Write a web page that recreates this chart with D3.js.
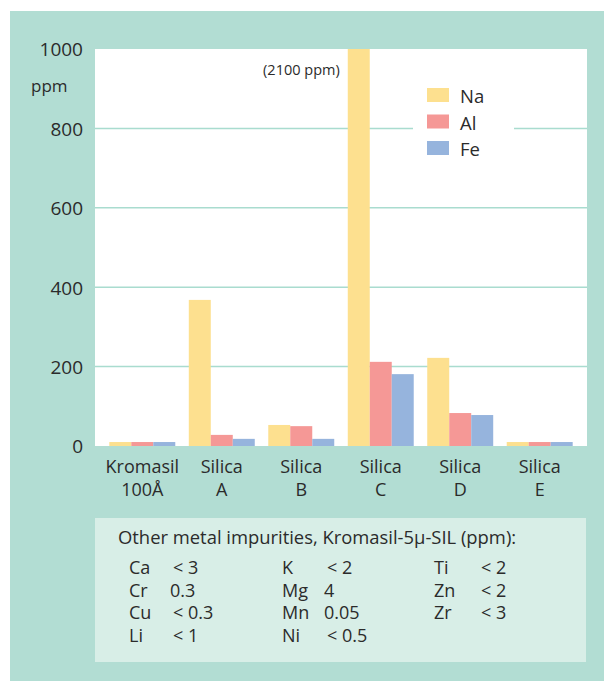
<!DOCTYPE html>
<html><head><meta charset="utf-8">
<script src="https://cdn.jsdelivr.net/npm/d3@7"></script>
<style>
html,body{margin:0;padding:0;background:#fff;}
svg text{font-family:"Open Sans","Noto Sans",sans-serif;fill:#2b2b2b;}
</style></head>
<body>
<svg id="chart" width="604" height="681"></svg>
<script>
const categories = [["Kromasil","100Å"],["Silica","A"],["Silica","B"],["Silica","C"],["Silica","D"],["Silica","E"]];
const seriesNames = ["Na","Al","Fe"];
const naValues = [10, 368, 53, 2100, 222, 10];
const alValues = [10, 28, 50, 212, 83, 10];
const feValues = [10, 18, 18, 181, 78, 10];
const yTicks = [0, 200, 400, 600, 800, 1000];
const seriesColors = ["#fde08f", "#f59896", "#96b4dd"];
const offScaleNote = "(2100 ppm)";
const boxTitle = "Other metal impurities, Kromasil-5µ-SIL (ppm):";
const impurityCols = [
  [["Ca","< 3"],["Cr","0.3"],["Cu","< 0.3"],["Li","< 1"]],
  [["K","< 2"],["Mg","4"],["Mn","0.05"],["Ni","< 0.5"]],
  [["Ti","< 2"],["Zn","< 2"],["Zr","< 3"]]
];

const svg = d3.select("#chart");
const teal = "#b2ddd3";
svg.append("rect").attr("x",10).attr("y",11).attr("width",594).attr("height",670).attr("fill",teal);

const plot = {l:95, r:587, t:49, b:446};
svg.append("rect").attr("x",plot.l).attr("y",plot.t).attr("width",plot.r-plot.l).attr("height",plot.b-plot.t).attr("fill","#fff");

const y = d3.scaleLinear().domain([0,1000]).range([plot.b, plot.t]);
const x0 = d3.scaleBand().domain(d3.range(categories.length)).range([plot.l, plot.r]).paddingInner(0.17).paddingOuter(0.18);
const x1 = d3.scaleBand().domain(seriesNames).range([0, x0.bandwidth()]);

svg.append("g").selectAll("line").data(yTicks.filter(t=>t>0 && t<1000)).join("line")
  .attr("x1",plot.l).attr("x2",plot.r).attr("y1",d=>y(d)).attr("y2",d=>y(d))
  .attr("stroke","#a9dccf").attr("stroke-width",1.5);

svg.append("clipPath").attr("id","pc").append("rect")
  .attr("x",plot.l).attr("y",plot.t).attr("width",plot.r-plot.l).attr("height",plot.b-plot.t+1);
const allVals = [naValues, alValues, feValues];
const bars = [];
categories.forEach((c,i)=>seriesNames.forEach((s,j)=>bars.push({i, s, j, v: allVals[j][i]})));
svg.append("g").attr("clip-path","url(#pc)").selectAll("rect").data(bars).join("rect")
  .attr("x",d=>x0(d.i)+x1(d.s)).attr("width",x1.bandwidth())
  .attr("y",d=>y(Math.min(d.v,1000))).attr("height",d=>plot.b - y(Math.min(d.v,1000)))
  .attr("fill",d=>seriesColors[d.j]);

svg.append("text").attr("x", x0(3)+x1("Na")-8).attr("y",75).attr("text-anchor","end")
  .attr("font-size",14.5).text(offScaleNote);

const yAxis = d3.axisLeft(y).tickValues(yTicks).tickSize(0).tickPadding(0).tickFormat(d3.format("d"));
const ya = svg.append("g").attr("transform",`translate(${83},0)`).call(yAxis);
ya.select(".domain").remove();
ya.selectAll("text").attr("font-size",19).attr("fill","#2b2b2b").attr("font-family",'"Open Sans","Noto Sans",sans-serif').attr("dy","0.36em");
svg.append("text").attr("x",31).attr("y",92).attr("font-size",17).text("ppm");

const xa = svg.append("g");
categories.forEach((c,i)=>{
  const cx = x0(i)+x0.bandwidth()/2;
  const t = xa.append("text").attr("x",cx).attr("y",472.5).attr("text-anchor","middle").attr("font-size",18);
  t.append("tspan").attr("x",cx).text(c[0]);
  t.append("tspan").attr("x",cx).attr("dy",23).text(c[1]);
});

const lg = svg.append("g");
lg.append("rect").attr("x",413).attr("y",80).attr("width",101).attr("height",82).attr("fill","#fff");
seriesNames.forEach((s,j)=>{
  lg.append("rect").attr("x",427).attr("y",88+j*26.5).attr("width",22).attr("height",14).attr("fill",seriesColors[j]);
  lg.append("text").attr("x",460).attr("y",102+j*26.5+1).attr("font-size",18.5).text(s);
});

svg.append("rect").attr("x",95).attr("y",518).attr("width",491).attr("height",144).attr("fill","#d8eee7");
svg.append("text").attr("x",118).attr("y",544).attr("font-size",18.4).text(boxTitle);
const colX = [[129,170],[282,324],[434,478]];
impurityCols.forEach((col,ci)=>{
  col.forEach((row,ri)=>{
    const yy = 574 + ri*22.5;
    svg.append("text").attr("x",colX[ci][0]).attr("y",yy).attr("font-size",18).text(row[0]);
    svg.append("text").attr("x",colX[ci][1] + (row[1].startsWith("<")?3:0)).attr("y",yy).attr("font-size",18).text(row[1]);
  });
});
</script>
</body></html>
